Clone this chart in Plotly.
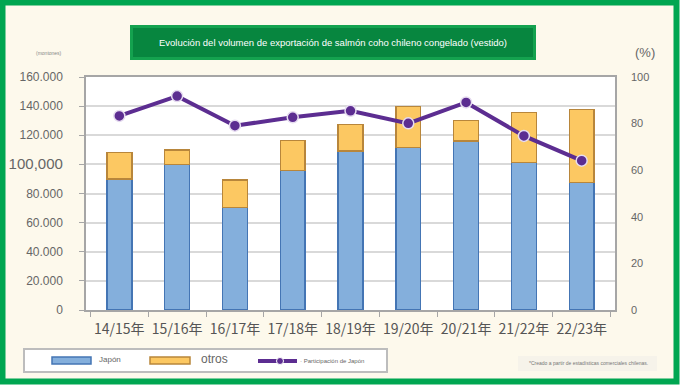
import plotly.graph_objects as go

categories = ["14/15年", "15/16年", "16/17年", "17/18年", "18/19年", "19/20年", "20/21年", "21/22年", "22/23年"]
japon = [90000, 99800, 70500, 95900, 109200, 111500, 116000, 101200, 87400]
otros = [18300, 10100, 18800, 20400, 18300, 28100, 14000, 34500, 50400]
participacion = [83.3, 91.8, 79.1, 82.7, 85.5, 80.1, 89.1, 74.7, 64.1]

left_tickvals = [0, 20000, 40000, 60000, 80000, 100000, 120000, 140000, 160000]
left_ticktext = ["0", "20.000", "40.000", "60.000", "80.000",
                 "<span style='font-size:15px'>100,000</span>", "120.000", "140.000", "160.000"]
right_tickvals = [0, 20, 40, 60, 80, 100]
right_ticktext = ["0", "20", "40", "60", "80", "100"]

series_names = ["Japón", "otros", "Participación de Japón"]
title_text = "Evolución del volumen de exportación de salmón coho chileno congelado (vestido)"
source_text = "*Creado a partir de estadísticas comerciales chilenas."

W, H = 684, 392
L, R, T, B = 86, 69, 77, 82
PW, PH = W - L - R, H - T - B


def xp(px):
    return (px - L) / PW


def yp(py):
    return (H - B - py) / PH


BLUE = "#84afdc"
BLUE_EDGE = "#4475b4"
ORANGE = "#fcc862"
ORANGE_EDGE = "#b8863b"
PURPLE = "#5c2d91"
GRAY = "#666666"

fig = go.Figure()
fig.add_trace(go.Bar(x=categories, y=japon, name=series_names[0],
                     marker=dict(color=BLUE, line=dict(color=BLUE_EDGE, width=1.5)),
                     showlegend=False))
fig.add_trace(go.Bar(x=categories, y=otros, name=series_names[1],
                     marker=dict(color=ORANGE, line=dict(color=ORANGE_EDGE, width=1.5)),
                     showlegend=False))
fig.add_trace(go.Scatter(x=categories, y=participacion, name=series_names[2], yaxis="y2",
                         mode="lines+markers",
                         line=dict(color=PURPLE, width=4),
                         marker=dict(size=11, color=PURPLE, line=dict(color="#e6dcf0", width=1.5)),
                         showlegend=False))

shapes = []
# outer cream panel with green frame
shapes.append(dict(type="rect", xref="paper", yref="paper", layer="below",
                   x0=xp(2.5), x1=xp(676.5), y0=yp(381.5), y1=yp(2.5),
                   fillcolor="#fdf9ec", line=dict(color="#00a651", width=6)))
# white plot background
shapes.append(dict(type="rect", xref="paper", yref="paper", layer="below",
                   x0=0, x1=1, y0=0, y1=1, fillcolor="white", line=dict(width=0)))
# title box
shapes.append(dict(type="rect", xref="paper", yref="paper", layer="above",
                   x0=xp(130), x1=xp(536), y0=yp(60), y1=yp(25),
                   fillcolor="#14a24f", line=dict(width=0)))
shapes.append(dict(type="rect", xref="paper", yref="paper", layer="above",
                   x0=xp(133), x1=xp(533), y0=yp(57), y1=yp(28),
                   fillcolor="#07863f", line=dict(width=0)))
# legend box
shapes.append(dict(type="rect", xref="paper", yref="paper", layer="above",
                   x0=xp(24), x1=xp(387), y0=yp(372), y1=yp(349),
                   fillcolor="white", line=dict(color="#bdbdbd", width=2)))
shapes.append(dict(type="rect", xref="paper", yref="paper", layer="above",
                   x0=xp(52), x1=xp(91), y0=yp(364), y1=yp(357),
                   fillcolor=BLUE, line=dict(color=BLUE_EDGE, width=1.5)))
shapes.append(dict(type="rect", xref="paper", yref="paper", layer="above",
                   x0=xp(150), x1=xp(190), y0=yp(364), y1=yp(357),
                   fillcolor=ORANGE, line=dict(color=ORANGE_EDGE, width=1.5)))
shapes.append(dict(type="line", xref="paper", yref="paper", layer="above",
                   x0=xp(258), x1=xp(297), y0=yp(361), y1=yp(361),
                   line=dict(color=PURPLE, width=4)))
shapes.append(dict(type="circle", xref="paper", yref="paper", layer="above",
                   x0=xp(276.5), x1=xp(283.5), y0=yp(364.5), y1=yp(357.5),
                   fillcolor=PURPLE, line=dict(color="white", width=1)))
# source note box
shapes.append(dict(type="rect", xref="paper", yref="paper", layer="above",
                   x0=xp(518), x1=xp(657), y0=yp(371), y1=yp(356),
                   fillcolor="#f6f3ea", line=dict(width=0)))

annotations = [
    dict(text=title_text, x=xp(333), y=yp(42.5), xref="paper", yref="paper",
         showarrow=False, font=dict(size=9.5, color="white", family="Liberation Sans Narrow, Arial"),
         xanchor="center", yanchor="middle"),
    dict(text="(montones)", x=xp(49), y=yp(53), xref="paper", yref="paper",
         showarrow=False, font=dict(size=5, color="#888888"), xanchor="center", yanchor="middle"),
    dict(text="(%)", x=xp(645), y=yp(52), xref="paper", yref="paper",
         showarrow=False, font=dict(size=13, color=GRAY), xanchor="center", yanchor="middle"),
    dict(text=series_names[0], x=xp(97), y=yp(359), xref="paper", yref="paper",
         showarrow=False, font=dict(size=8, color=GRAY), xanchor="left", yanchor="middle"),
    dict(text=series_names[1], x=xp(199), y=yp(359), xref="paper", yref="paper",
         showarrow=False, font=dict(size=12, color=GRAY), xanchor="left", yanchor="middle"),
    dict(text="· " + series_names[2], x=xp(298), y=yp(361), xref="paper", yref="paper",
         showarrow=False, font=dict(size=6, color=GRAY), xanchor="left", yanchor="middle"),
    dict(text=source_text, x=xp(588), y=yp(363), xref="paper", yref="paper",
         showarrow=False, font=dict(size=5, color="#777777"), xanchor="center", yanchor="middle"),
]

fig.update_layout(
    width=W, height=H,
    margin=dict(l=L, r=R, t=T, b=B, pad=0, autoexpand=False),
    paper_bgcolor="white",
    plot_bgcolor="rgba(0,0,0,0)",
    barmode="stack",
    bargap=0.57,
    showlegend=False,
    font=dict(family="Arial, Liberation Sans", color=GRAY),
    xaxis=dict(type="category", showgrid=False, showline=True, linecolor="#a6a6a6", linewidth=1.5,
               mirror=True, ticks="outside", ticklen=5, tickcolor="#a6a6a6", tickson="boundaries",
               tickangle=0, automargin=False,
               tickfont=dict(size=14, color="#555555", family="Noto Sans CJK JP, Arial"),
               ticklabelstandoff=5),
    yaxis=dict(range=[0, 160000], tickvals=left_tickvals, ticktext=left_ticktext,
               showgrid=True, gridcolor="#d9d9d9", gridwidth=1.5, automargin=False,
               showline=True, linecolor="#a6a6a6", linewidth=1.5, mirror=True,
               ticks="outside", ticklen=5, tickcolor="#a6a6a6",
               tickfont=dict(size=12, color=GRAY), ticklabelstandoff=14, zeroline=False),
    yaxis2=dict(range=[0, 100], overlaying="y", side="right", tickvals=right_tickvals,
                ticktext=right_ticktext, showgrid=False, showline=False, ticks="",
                automargin=False,
                tickfont=dict(size=11, color=GRAY), ticklabelstandoff=15, zeroline=False),
    shapes=shapes,
    annotations=annotations,
)

fig.write_html("out.html", config={"displayModeBar": False},
               post_script="document.body.style.margin='0';")
